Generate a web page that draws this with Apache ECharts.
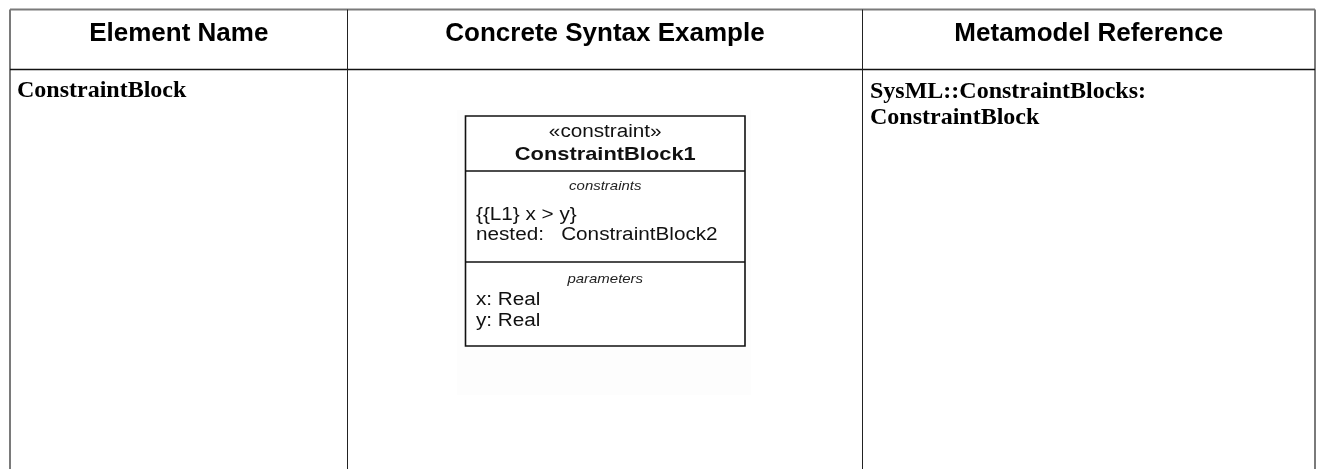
<!DOCTYPE html>
<html>
<head>
<meta charset="utf-8">
<script src="https://cdn.jsdelivr.net/npm/echarts@6/dist/echarts.min.js"></script>
<style>
html,body{margin:0;padding:0;background:#fff;}
#chart{width:1319px;height:469px;}
</style>
</head>
<body>
<div id="chart"></div>
<script>
// ---- data ----
const headers = ["Element Name", "Concrete Syntax Example", "Metamodel Reference"];
const elementNames = ["ConstraintBlock"];
const metamodelRefs = ["SysML::ConstraintBlocks:", "ConstraintBlock"];
const blockStereotype = "«constraint»";
const blockName = "ConstraintBlock1";
const compartmentTitles = ["constraints", "parameters"];
const constraintLines = ["{{L1} x > y}", "nested:   ConstraintBlock2"];
const parameterLines = ["x: Real", "y: Real"];

// ---- layout ----
const L = 10, R = 1315, T = 9.5, B = 469;
const colX = [347.5, 862.5];
const headY = 69.5;
const SANS = '"Liberation Sans", Arial, sans-serif';
const SERIF = '"Liberation Serif", "Times New Roman", serif';
const SX = 1.15; // diagram horizontal stretch

const g = [];
function line(x1, y1, x2, y2, stroke, w) {
  g.push({type: 'line', shape: {x1, y1, x2, y2}, style: {stroke, lineWidth: w}, silent: true});
}
function text(str, x, y, opts) {
  g.push({
    type: 'text', x, y, scaleX: opts.scaleX || 1, originX: 0, originY: 0, silent: true,
    style: {
      text: str, x: 0, y: 0,
      fontSize: opts.size, fontWeight: opts.weight || 'normal', fontStyle: opts.style || 'normal',
      fontFamily: opts.family || SANS, fill: opts.fill || '#000',
      align: opts.align || 'left', verticalAlign: 'middle',
      textAlign: opts.align || 'left', textVerticalAlign: 'middle'
    }
  });
}

// faint image background behind diagram
g.push({type: 'rect', shape: {x: 457, y: 110, width: 294, height: 285}, style: {fill: '#fdfdfd'}, silent: true});

// table borders
line(L, T, R, T, '#7a7a7a', 2);
line(L, T, L, B, '#7a7a7a', 2);
line(R, T, R, B, '#7a7a7a', 2);
line(L, headY, R, headY, '#111', 1.3);
line(colX[0], T, colX[0], B, '#222', 1);
line(colX[1], T, colX[1], B, '#222', 1);

// headers
const colCenters = [(L + colX[0]) / 2, (colX[0] + colX[1]) / 2, (colX[1] + R) / 2];
headers.forEach((h, i) => text(h, colCenters[i], 34, {size: 26, weight: 'bold', align: 'center'}));

// body text
elementNames.forEach((n, i) => text(n, 17, 91 + i * 26, {size: 24, weight: 'bold', family: SERIF}));
metamodelRefs.forEach((n, i) => text(n, 870, 92 + i * 26, {size: 24, weight: 'bold', family: SERIF}));

// UML block
const bx1 = 465.5, bx2 = 745, by1 = 116, by2 = 346;
const d1 = 171, d2 = 262;
const bcx = (bx1 + bx2) / 2;
g.push({type: 'rect', shape: {x: bx1, y: by1, width: bx2 - bx1, height: by2 - by1}, style: {fill: '#fff', stroke: '#111', lineWidth: 1.6}, silent: true});
line(bx1, d1, bx2, d1, '#111', 1.6);
line(bx1, d2, bx2, d2, '#111', 1.6);

text(blockStereotype, bcx, 132, {size: 18, align: 'center', scaleX: SX, fill: '#111'});
text(blockName, bcx, 155, {size: 19, weight: 'bold', align: 'center', scaleX: SX, fill: '#111'});
text(compartmentTitles[0], bcx, 186, {size: 13, style: 'italic', align: 'center', scaleX: SX, fill: '#222'});
constraintLines.forEach((s, i) => text(s, 476, 215 + i * 20.5, {size: 18, scaleX: SX, fill: '#111'}));
text(compartmentTitles[1], bcx, 279, {size: 13, style: 'italic', align: 'center', scaleX: SX, fill: '#222'});
parameterLines.forEach((s, i) => text(s, 476, 300 + i * 21, {size: 18, scaleX: SX, fill: '#111'}));

const chart = echarts.init(document.getElementById('chart'), null, {renderer: 'canvas'});
chart.setOption({backgroundColor: '#fff', animation: false, graphic: {elements: g}});
</script>
</body>
</html>
